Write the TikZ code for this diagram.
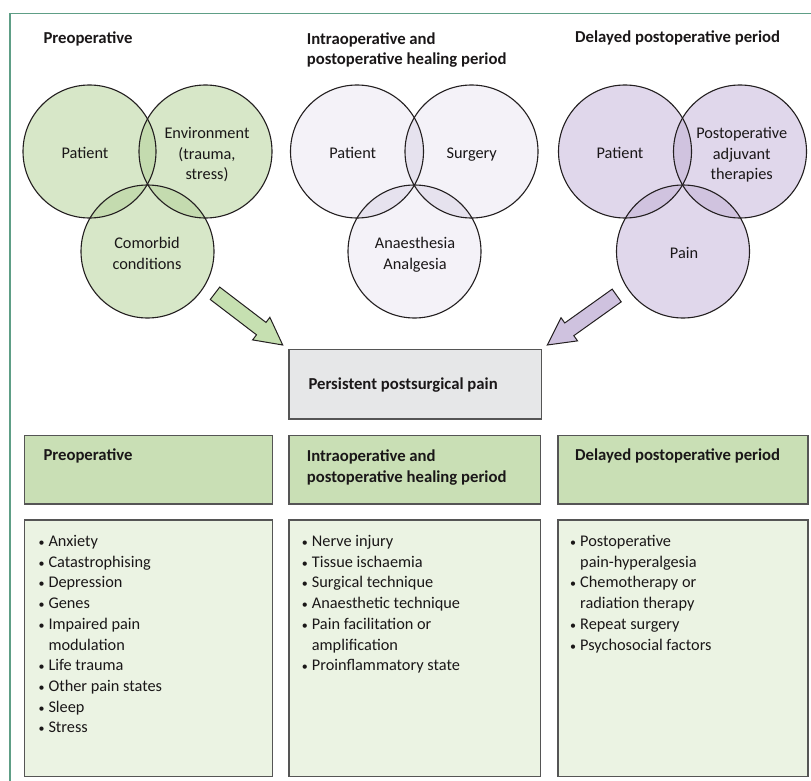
\documentclass[tikz,border=0pt]{standalone}
\usepackage{fontspec}
\setmainfont{Carlito}
\usetikzlibrary{calc}
\definecolor{frameC}{HTML}{5E9E86}
\definecolor{lineC}{HTML}{231F20}
\definecolor{gFill}{HTML}{D7E7C8}
\definecolor{gOver}{HTML}{C4DBAF}
\definecolor{mFill}{HTML}{F4F2F8}
\definecolor{mOver}{HTML}{E6E2EE}
\definecolor{pFill}{HTML}{E0D7EB}
\definecolor{pOver}{HTML}{D0C3DF}
\definecolor{gArrow}{HTML}{C6E0B1}
\definecolor{pArrow}{HTML}{CFC2DF}
\definecolor{hdrFill}{HTML}{C9DFB5}
\definecolor{lstFill}{HTML}{EBF3E3}
\definecolor{ppFill}{HTML}{E6E7E8}
\definecolor{boxLine}{HTML}{555555}
\definecolor{txt}{HTML}{1A1718}
\newcommand\bitem[4]{%
  \node[bul] (#1b) at ({#2-6.8},#3) {\textbullet};
  \node[lblw] (#1) at (#2,#3) {#4};}
\begin{document}
\begin{tikzpicture}[x=1pt,y=-1pt,
  lbl/.style={font=\fontsize{16.3}{20.7}\selectfont, text=txt, inner sep=0pt, anchor=base},
  lblw/.style={lbl, anchor=base west},
  bul/.style={lbl, font=\fontsize{12}{12}\selectfont},
  ttl/.style={lblw, font=\fontsize{16.7}{20.7}\selectfont\bfseries},
  vc/.style={circle, minimum size=133pt, inner sep=0pt},
  outl/.style={draw=lineC, line width=1.1pt},
  boxst/.style={draw=boxLine, line width=1.3pt, anchor=north west, inner sep=0pt},
  arr/.style={draw=lineC, line width=1pt, line join=miter},
  ]
\useasboundingbox (0,0) rectangle (811,781);
\fill[white] (0,0) rectangle (811,781);
% frame
\draw[frameC, line width=1.5pt] (10,781) -- (10,13.5) -- (811,13.5);

% titles
\node[ttl] (t1) at (43.3,43.3) {Preoperative};
\node[ttl] (t2a) at (306.7,44.3) {Intraoperative and};
\node[ttl] (t2b) at (306.7,65) {postoperative healing period};
\node[ttl] (t3) at (575,42.7) {Delayed postoperative period};

% circles
\node[vc, fill=gFill] (lp) at (89.5,151.5) {};
\node[vc, fill=gFill] (le) at (205.5,151.5) {};
\node[vc, fill=gFill] (lc) at (147.5,251.5) {};
\node[vc, fill=mFill] (mp) at (357,151.5) {};
\node[vc, fill=mFill] (ms) at (471.5,151.5) {};
\node[vc, fill=mFill] (ma) at (414.5,251.5) {};
\node[vc, fill=pFill] (rp) at (625,151.5) {};
\node[vc, fill=pFill] (ra) at (740,151.5) {};
\node[vc, fill=pFill] (rn) at (683,251.5) {};

% overlaps
\foreach \a/\b/\c in {lp/le/gOver, lp/lc/gOver, le/lc/gOver,
                      mp/ms/mOver, mp/ma/mOver, ms/ma/mOver,
                      rp/ra/pOver, rp/rn/pOver, ra/rn/pOver}{
  \begin{scope}
    \clip (\a.center) circle[radius=66.5];
    \fill[\c] (\b.center) circle[radius=66.5];
  \end{scope}
}
\foreach \a in {lp,le,lc,mp,ms,ma,rp,ra,rn}{
  \draw[outl] (\a.center) circle[radius=66.5];
}

% circle labels
\node[lbl] (lpt) at (85,158.3) {Patient};
\node[lbl] (let1) at (207,138.3) {Environment};
\node[lbl] (let2) at (207,159) {(trauma,};
\node[lbl] (let3) at (207,179.7) {stress)};
\node[lbl] (lct1) at (147,248.3) {Comorbid};
\node[lbl] (lct2) at (147,269) {conditions};

\node[lbl] (mpt) at (352.7,158.3) {Patient};
\node[lbl] (mst) at (471.7,158.3) {Surgery};
\node[lbl] (mat1) at (415,248.3) {Anaesthesia};
\node[lbl] (mat2) at (415,269) {Analgesia};

\node[lbl] (rpt) at (620,158.3) {Patient};
\node[lbl] (rat1) at (741.7,138.3) {Postoperative};
\node[lbl] (rat2) at (741.7,159) {adjuvant};
\node[lbl] (rat3) at (741.7,179.7) {therapies};
\node[lbl] (rnt) at (684,258.3) {Pain};

% central box
\node[boxst, fill=ppFill, minimum width=252.4pt, minimum height=69.3pt] (pp) at (288.3,349) {};
\node[ttl] (ppt) at (308.3,389) {Persistent postsurgical pain};

% block arrows
\coordinate (gt) at (215,293.3);
\coordinate (gp) at (282.7,345);
\coordinate (gb) at ($(gp)!27pt!(gt)$);
\draw[arr, fill=gArrow] ($(gt)!7.8pt!90:(gp)$) -- ($(gb)!7.8pt!90:(gp)$) -- ($(gb)!14.2pt!90:(gp)$)
  -- (gp) -- ($(gb)!14.2pt!-90:(gp)$) -- ($(gb)!7.8pt!-90:(gp)$) -- ($(gt)!7.8pt!-90:(gp)$) -- cycle;
\coordinate (pt) at (616.7,295.5);
\coordinate (ptip) at (547.3,345);
\coordinate (pb) at ($(ptip)!27pt!(pt)$);
\draw[arr, fill=pArrow] ($(pt)!7.8pt!90:(ptip)$) -- ($(pb)!7.8pt!90:(ptip)$) -- ($(pb)!14.2pt!90:(ptip)$)
  -- (ptip) -- ($(pb)!14.2pt!-90:(ptip)$) -- ($(pb)!7.8pt!-90:(ptip)$) -- ($(pt)!7.8pt!-90:(ptip)$) -- cycle;

% header boxes
\node[boxst, fill=hdrFill, minimum width=247.7pt, minimum height=68.3pt] (h1) at (24,435) {};
\node[boxst, fill=hdrFill, minimum width=251.7pt, minimum height=68.3pt] (h2) at (288.3,435) {};
\node[boxst, fill=hdrFill, minimum width=250pt, minimum height=68.3pt] (h3) at (557.3,435) {};
\node[ttl] (h1t) at (43.3,460.7) {Preoperative};
\node[ttl] (h2ta) at (306.7,461.5) {Intraoperative and};
\node[ttl] (h2tb) at (306.7,482.5) {postoperative healing period};
\node[ttl] (h3t) at (575,460.7) {Delayed postoperative period};

% list boxes
\node[boxst, fill=lstFill, minimum width=247.7pt, minimum height=256.7pt] (l1) at (24,519.3) {};
\node[boxst, fill=lstFill, minimum width=251.7pt, minimum height=256.7pt] (l2) at (288.3,519.3) {};
\node[boxst, fill=lstFill, minimum width=250pt, minimum height=256.7pt] (l3) at (557.3,519.3) {};

% left list
\bitem{a1}{48.3}{546.5}{Anxiety}
\bitem{a2}{48.3}{567.2}{Catastrophising}
\bitem{a3}{48.3}{587.9}{Depression}
\bitem{a4}{48.3}{608.6}{Genes}
\bitem{a5}{48.3}{629.3}{Impaired pain}
\node[lblw] (a5c) at (48.3,650) {modulation};
\bitem{a6}{48.3}{670.7}{Life trauma}
\bitem{a7}{48.3}{691.4}{Other pain states}
\bitem{a8}{48.3}{712.1}{Sleep}
\bitem{a9}{48.3}{732.8}{Stress}

% middle list
\bitem{b1}{311.7}{546.5}{Nerve injury}
\bitem{b2}{311.7}{567.2}{Tissue ischaemia}
\bitem{b3}{311.7}{587.9}{Surgical technique}
\bitem{b4}{311.7}{608.6}{Anaesthetic technique}
\bitem{b5}{311.7}{629.3}{Pain facilitation or}
\node[lblw] (b5c) at (311.7,650) {amplification};
\bitem{b6}{311.7}{670.7}{Proinflammatory state}

% right list
\bitem{c1}{580}{546.5}{Postoperative}
\node[lblw] (c1c) at (580,567.2) {pain-hyperalgesia};
\bitem{c2}{580}{587.9}{Chemotherapy or}
\node[lblw] (c2c) at (580,608.6) {radiation therapy};
\bitem{c3}{580}{629.3}{Repeat surgery}
\bitem{c4}{580}{650}{Psychosocial factors}
\end{tikzpicture}
\end{document}
